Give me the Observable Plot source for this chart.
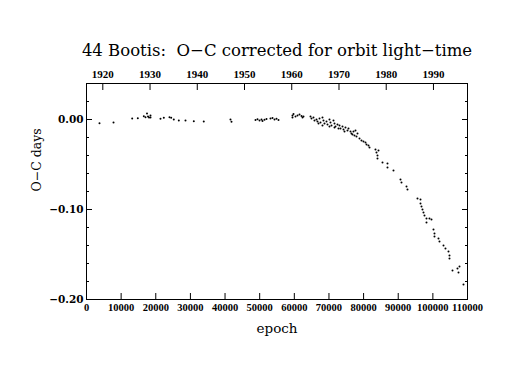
<!DOCTYPE html>
<html><head><meta charset="utf-8">
<script src="https://cdn.jsdelivr.net/npm/d3@7"></script>
<script src="https://cdn.jsdelivr.net/npm/@observablehq/plot@0.6"></script>
<style>body{margin:0;background:#fff}</style>
</head><body><div id="chart"></div>
<script>
const epoch = [3750, 7800, 13190, 14810, 16540, 17030, 17470, 17760, 18050, 18480, 18480,
  21360, 22320, 23960, 24450, 25200, 26650, 28580, 30980, 33860, 41570, 41860,
  48790, 49370, 49950, 50520, 50810, 51390, 51970, 53120, 53700, 54280, 54850, 55430,
  59470, 59470, 59760, 60340, 60920, 61490, 62070, 62360, 62650,
  64670, 64960, 65530, 65820, 66400, 66690, 67270, 67560, 68130, 68420, 68710, 69290, 69580,
  70150, 70440, 70730, 71310, 71600, 71890, 72460,
  73040, 73330, 73910, 74200, 74770, 75350, 75640, 76220, 76790, 77080, 77660, 77950, 78240,
  78820, 79390, 79970, 80550, 80840, 81410, 81700,
  83430, 83720, 84010, 84010, 84300, 85460, 86900, 86900, 88630, 90650, 90940, 92390, 92670,
  95560, 96430, 96430, 96720, 97000, 97290, 97580, 98160, 98160, 99020, 99600,
  100180, 100470, 100470, 101620, 101910, 103070, 103640, 104510, 104800, 104800,
  105670, 107110, 107400, 107690, 108840,
  66980, 68130, 70150, 71600, 72750, 74490, 76500, 77370];
const oc = [-0.0041, -0.0033, 0.0011, 0.0014, 0.0037, 0.0026, 0.0067, 0.0033, 0.0022, 0.0044, 0.0022,
  0.0008, 0.0019, 0.0026, 0.0019, 0.0000, -0.0011, -0.0011, -0.0019, -0.0022, 0.0000, -0.0026,
  -0.0006, 0.0003, -0.0011, 0.0000, -0.0017, -0.0003, 0.0006, 0.0011, 0.0017, 0.0000, 0.0008, -0.0006,
  0.0044, 0.0022, 0.0061, 0.0033, 0.0044, 0.0056, 0.0039, 0.0022, 0.0033,
  0.0033, 0.0011, 0.0022, -0.0011, 0.0000, -0.0022, 0.0011, -0.0033, 0.0022, -0.0011, -0.0044, -0.0022, -0.0056,
  0.0000, -0.0033, -0.0067, -0.0011, -0.0044, -0.0078, -0.0056,
  -0.0067, -0.0100, -0.0078, -0.0111, -0.0089, -0.0122, -0.0100, -0.0133, -0.0167, -0.0133, -0.0122, -0.0189, -0.0156,
  -0.0211, -0.0233, -0.0244, -0.0256, -0.0278, -0.0289, -0.0311,
  -0.0333, -0.0367, -0.0400, -0.0433, -0.0344, -0.0478, -0.0489, -0.0533, -0.0567, -0.0667, -0.0700, -0.0744, -0.0778,
  -0.0878, -0.0889, -0.0933, -0.0967, -0.1000, -0.1033, -0.1067, -0.1100, -0.1144, -0.1100, -0.1111,
  -0.1222, -0.1267, -0.1300, -0.1322, -0.1356, -0.1400, -0.1433, -0.1467, -0.1511, -0.1544,
  -0.1678, -0.1656, -0.1700, -0.1633, -0.1833,
  -0.0044, -0.0067, -0.0078, -0.0089, -0.0100, -0.0133, -0.0156, -0.0178];

const xTicks = [0, 10000, 20000, 30000, 40000, 50000, 60000, 70000, 80000, 90000, 100000, 110000];
const yearTicks = [1920, 1930, 1940, 1950, 1960, 1970, 1980, 1990];
const yMajor = [-0.2, -0.1, 0];
const yMinor = [-0.18, -0.16, -0.14, -0.12, -0.08, -0.06, -0.04, -0.02, 0.02];
const yLabels = {"-0.2": "\u22120.20", "-0.1": "\u22120.10", "0": "0.00"};
const titleText = "44 Bootis:  O\u2212C corrected for orbit light\u2212time";
const xLabel = "epoch";
const yLabel = "O\u2212C days";

// orbital period (days) and epoch of 1920.0 used for the top year axis
const periodDays = 0.267818;
const epochAt1920 = 4706;
const yearToEpoch = yr => epochAt1920 + (yr - 1920) * 365.25 / periodDays;
const yearEpochs = yearTicks.map(yearToEpoch);

const data = epoch.map((e, i) => ({epoch: e, oc: oc[i]}));

const tickFont = {fontFamily: "Liberation Serif", fontWeight: "bold", fontSize: 10.5};

const chart = Plot.plot({
  width: 511, height: 381,
  marginLeft: 86, marginRight: 44, marginTop: 83, marginBottom: 82,
  style: {fontFamily: "DejaVu Serif", background: "white", color: "black", overflow: "visible"},
  x: {domain: [0, 110000], label: null},
  y: {domain: [-0.2, 0.04], label: null},
  marks: [
    Plot.frame({stroke: "black", strokeWidth: 1}),
    Plot.axisX(xTicks, {anchor: "bottom", tickSize: -6, tickPadding: 10, tickFormat: d => String(d), label: null, ...tickFont}),
    Plot.axisX(yearEpochs, {anchor: "top", tickSize: -6, tickPadding: 12, tickFormat: (d, i) => String(yearTicks[i]), label: null, ...tickFont, fontSize: 11}),
    Plot.axisY(yMajor, {anchor: "left", tickSize: -6, tickPadding: 9, tickFormat: d => yLabels[String(d)], label: null, fontFamily: "DejaVu Serif", fontWeight: "bold", fontSize: 10.5}),
    Plot.axisY(yMinor, {anchor: "left", tickSize: -3, tickFormat: () => "", label: null}),
    Plot.axisY(yMajor, {anchor: "right", tickSize: -6, tickFormat: () => "", label: null}),
    Plot.axisY(yMinor, {anchor: "right", tickSize: -3, tickFormat: () => "", label: null}),
    Plot.dot(data, {x: "epoch", y: "oc", r: 1, fill: "black", stroke: null}),
    Plot.text([titleText], {text: d => d, frameAnchor: "top", dy: -28, fontSize: 16.5, fontFamily: "DejaVu Serif", lineAnchor: "bottom"}),
    Plot.text([xLabel], {text: d => d, frameAnchor: "bottom", dy: 33, fontSize: 13.5, fontFamily: "DejaVu Serif", lineAnchor: "bottom"}),
    Plot.text([yLabel], {text: d => d, frameAnchor: "left", dx: -50, rotate: -90, fontSize: 12.5, fontFamily: "DejaVu Serif"})
  ]
});
document.getElementById("chart").appendChild(chart);
</script>
</body></html>
